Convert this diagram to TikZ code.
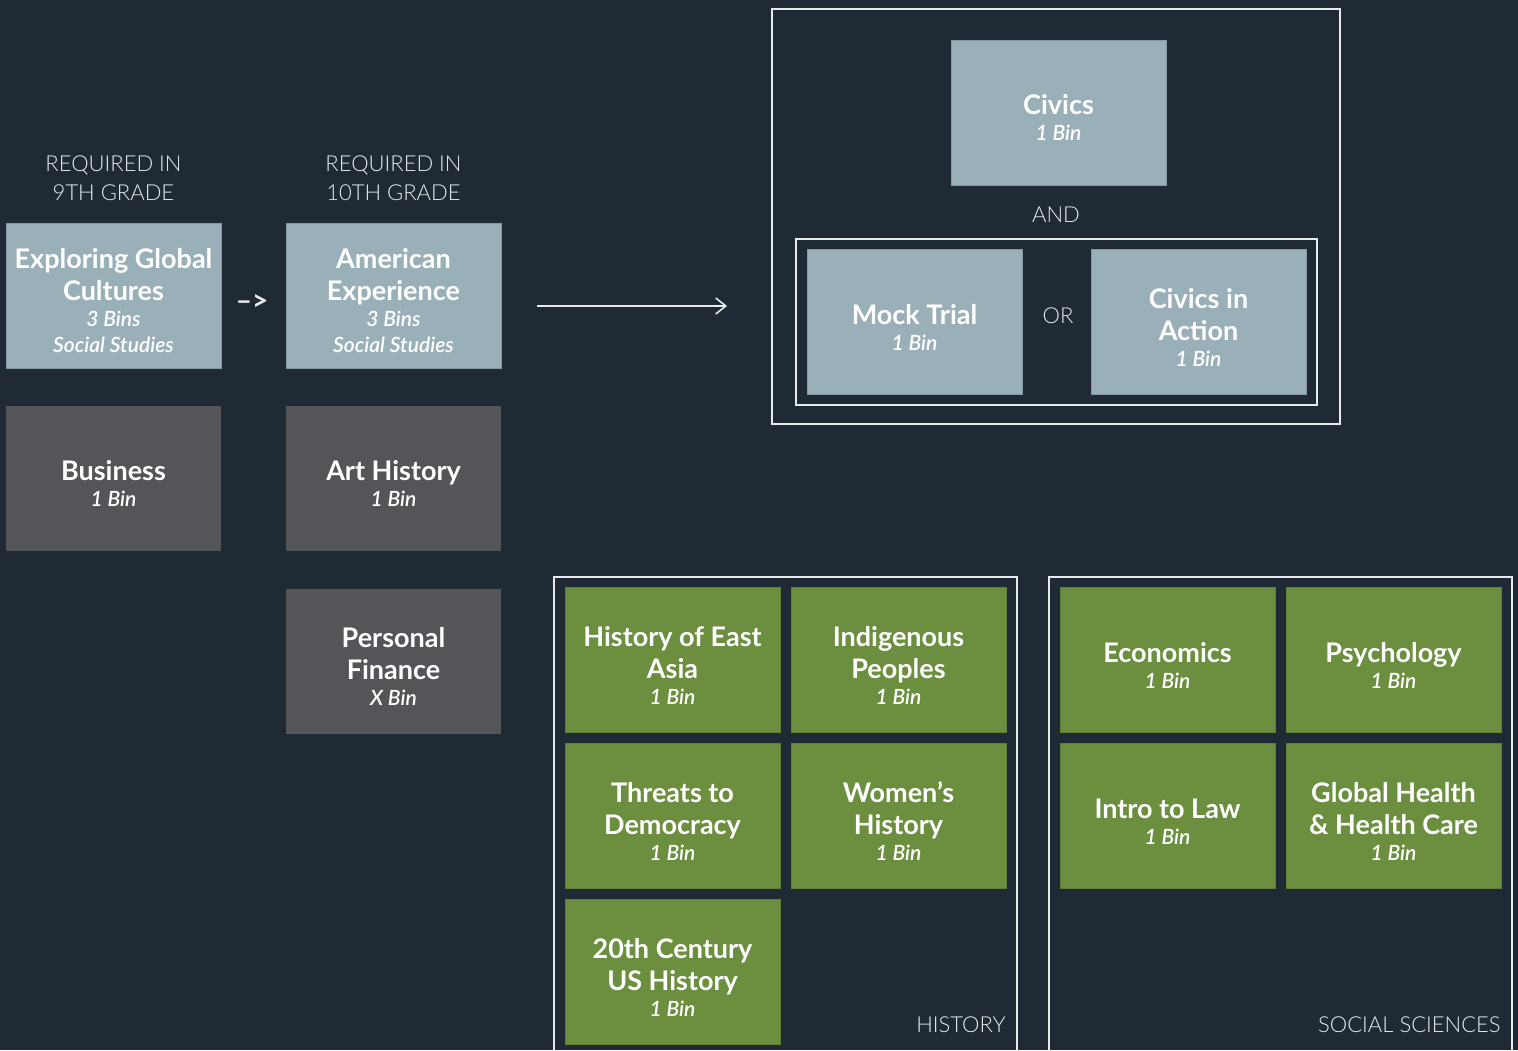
\documentclass[tikz,border=0pt]{standalone}
\usepackage{fontspec}
\setmainfont{Lato}
\newfontfamily\lightfont{Lato Light}[ItalicFont={Lato Light Italic}]
\usetikzlibrary{arrows.meta}

\definecolor{bgdark}{HTML}{1F2A34}
\definecolor{slate}{HTML}{9AB0B8}
\definecolor{slateline}{HTML}{8399A2}
\definecolor{stone}{HTML}{545558}
\definecolor{moss}{HTML}{6B8F3E}
\definecolor{mossline}{HTML}{5E7F36}
\definecolor{paper}{HTML}{E8EBEE}

\newcommand{\bins}[1]{{\lightfont\itshape\fontsize{10.5}{13}\selectfont #1}}
\newcommand{\lift}{\rule{0pt}{15pt}}

\begin{document}
\begin{tikzpicture}[x=0.5pt,y=-0.5pt,
	course/.style={minimum width=107.5pt, minimum height=72.5pt, inner sep=0pt,
		align=center, text=white, font=\fontsize{13.5}{16}\selectfont\bfseries},
	required/.style={course, fill=slate, draw=slateline, line width=0.4pt},
	elective/.style={course, fill=stone},
	option/.style={course, fill=moss, draw=mossline, line width=0.4pt},
	caption/.style={text=paper, align=center, inner sep=0pt, font=\lightfont\fontsize{11}{14.5}\selectfont},
	frame/.style={draw=paper, line width=0.6pt}]
	
	\fill[bgdark] (0,0) rectangle (1518,1050);
	\useasboundingbox (0,0) rectangle (1518,1050);
	
	% grade columns
	\node[caption] (h9) at (113.5, 178) {REQUIRED IN\\9TH GRADE};
	\node[caption] (h10) at (393.5, 178) {REQUIRED IN\\10TH GRADE};
	
	\node[required] (egc) at (113.5, 295.5) {\lift Exploring Global\\Cultures\\[-3pt]\bins{3 Bins}\\[-3pt]\bins{Social Studies}};
	\node[required] (ame) at (393.5, 295.5) {\lift American\\Experience\\[-3pt]\bins{3 Bins}\\[-3pt]\bins{Social Studies}};
	\node[caption, font=\fontsize{14}{16}\selectfont\bfseries] (then) at (252, 303) {–>};
	
	\node[elective] (bus) at (113.5, 478) {\lift Business\\[-3pt]\bins{1 Bin}};
	\node[elective] (art) at (393.5, 478) {\lift Art History\\[-3pt]\bins{1 Bin}};
	\node[elective] (fin) at (393.5, 661) {\lift Personal\\Finance\\[-3pt]\bins{X Bin}};
	
	\coordinate (go) at (537, 306);
	\coordinate (civtop) at (727, 306);
	\draw[paper, line width=0.7pt, -{Straight Barb[length=5pt, width=8pt, line width=0.8pt]}] (go) -- (civtop);
	
	% civics requirement
	\draw[frame] (772, 9) rectangle (1340, 424);
	\draw[frame] (796, 239) rectangle (1317, 405);
	\node[required] (civ) at (1058.5, 112.5) {\lift Civics\\[-3pt]\bins{1 Bin}};
	\node[caption] (and) at (1056, 215) {AND};
	\node[required] (mock) at (914.5, 322) {\lift Mock Trial\\[-3pt]\bins{1 Bin}};
	\node[caption] (or) at (1058, 316) {OR};
	\node[required] (cia) at (1198.5, 322) {\lift Civics in\\Action\\[-3pt]\bins{1 Bin}};
	
	% history electives
	\draw[frame] (554, 1050) -- (554, 577) -- (1017, 577) -- (1017, 1050);
	\node[option] (hea) at (672.5, 660) {\lift History of East\\Asia\\[-3pt]\bins{1 Bin}};
	\node[option] (ind) at (898.5, 660) {\lift Indigenous\\Peoples\\[-3pt]\bins{1 Bin}};
	\node[option] (thr) at (672.5, 816) {\lift Threats to\\Democracy\\[-3pt]\bins{1 Bin}};
	\node[option] (wom) at (898.5, 816) {\lift Women’s\\History\\[-3pt]\bins{1 Bin}};
	\node[option] (ush) at (672.5, 972) {\lift 20th Century\\US History\\[-3pt]\bins{1 Bin}};
	\node[caption, anchor=base east] (hist) at (1006, 1032) {HISTORY};
	
	% social sciences electives
	\draw[frame] (1049, 1050) -- (1049, 577) -- (1512, 577) -- (1512, 1050);
	\node[option] (eco) at (1167.5, 660) {\lift Economics\\[-3pt]\bins{1 Bin}};
	\node[option] (psy) at (1393.5, 660) {\lift Psychology\\[-3pt]\bins{1 Bin}};
	\node[option] (law) at (1167.5, 816) {\lift Intro to Law\\[-3pt]\bins{1 Bin}};
	\node[option] (ghc) at (1393.5, 816) {\lift Global Health\\\& Health Care\\[-3pt]\bins{1 Bin}};
	\node[caption, anchor=base east] (soc) at (1501, 1032) {SOCIAL SCIENCES};
\end{tikzpicture}
\end{document}
